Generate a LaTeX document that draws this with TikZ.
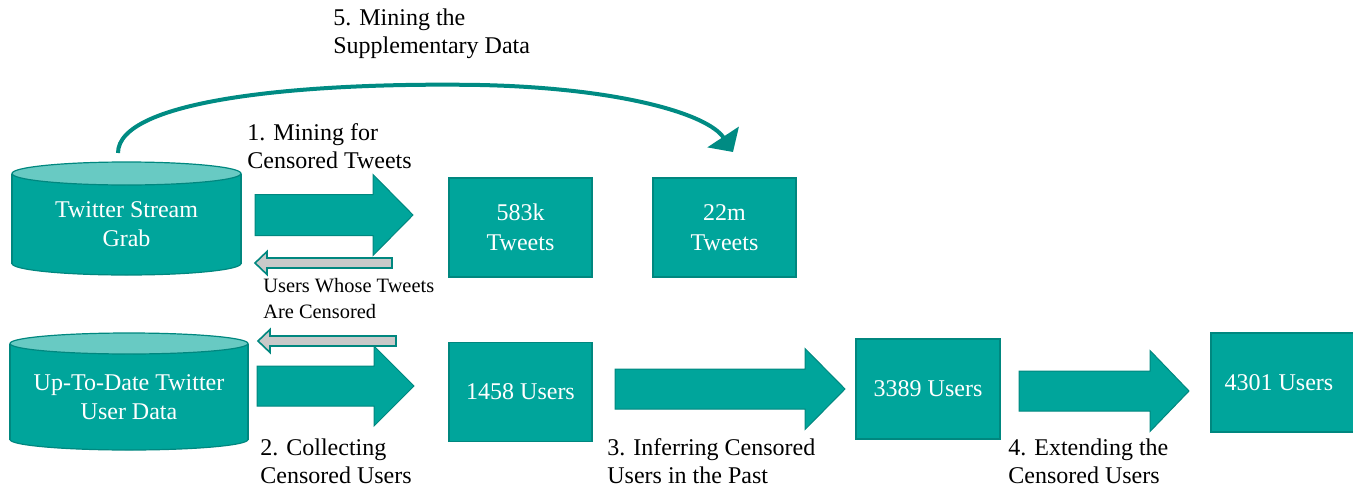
\documentclass[tikz,border=0pt]{standalone}
\usepackage{fontspec}
\setmainfont{Liberation Serif}
\usetikzlibrary{positioning,arrows.meta,calc}

\definecolor{tealmain}{HTML}{00A59B}
\definecolor{teallight}{HTML}{68CAC3}
\definecolor{tealdark}{HTML}{00877F}
\definecolor{grayfill}{HTML}{C9C9C9}

% block arrow: style, tail x, head base x, tip x, mid y, half shaft, half head
\newcommand{\blockarrow}[7]{%
  \draw[#1] (#2,#5-#6) -- (#3,#5-#6) -- (#3,#5-#7) -- (#4,#5)
    -- (#3,#5+#7) -- (#3,#5+#6) -- (#2,#5+#6) -- cycle;}

\begin{document}
\begin{tikzpicture}[x=0.5pt,y=-0.5pt,
  every node/.style={font=\fontsize{12}{14}\selectfont},
  Boxnode/.style={rectangle,fill=tealmain,draw=tealdark,line width=0.6pt,text=white,
    align=center,inner sep=0pt,minimum width=71.5pt,minimum height=49.5pt,
    font=\fontsize{12}{15}\selectfont},
  Cylnode/.style={text=white,align=center,inner sep=0pt,font=\fontsize{12}{14.5}\selectfont},
  Lblnode/.style={anchor=west,align=left,inner sep=0pt},
  Bigarrow/.style={fill=tealmain,draw=tealdark,line width=0.5pt},
  Grayarrow/.style={fill=grayfill,draw=tealdark,line width=0.8pt},
  Curvarrow/.style={draw=tealdark!85!tealmain,line width=2pt,
    -{Triangle[width=18.5pt,length=9pt]}}
]
\useasboundingbox (0,0) rectangle (1353,487);

% the first cylinder
\filldraw[fill=tealmain,draw=tealdark,line width=0.6pt] (126.5,263.5) ellipse [x radius=57.25pt, y radius=5.75pt];
\fill[tealmain] (12,173.5) rectangle (241,263.5);
\draw[tealdark,line width=0.6pt] (12,173.5) -- (12,263.5) (241,173.5) -- (241,263.5);
\filldraw[fill=teallight,draw=tealdark,line width=0.6pt] (126.5,173.5) ellipse [x radius=57.25pt, y radius=5.75pt];
\node[Cylnode] (grab) at (126.5,224) {Twitter Stream\\Grab};

% the second cylinder
\filldraw[fill=tealmain,draw=tealdark,line width=0.6pt] (129,439.5) ellipse [x radius=59.5pt, y radius=5.25pt];
\fill[tealmain] (10,343.5) rectangle (248,439.5);
\draw[tealdark,line width=0.6pt] (10,343.5) -- (10,439.5) (248,343.5) -- (248,439.5);
\filldraw[fill=teallight,draw=tealdark,line width=0.6pt] (129,343.5) ellipse [x radius=59.5pt, y radius=5.25pt];
\node[Cylnode] (userdata) at (129,397.5) {Up-To-Date Twitter\\User Data};

% the boxes
\node[Boxnode] (tw583) at (520.5,227.5) {583k\\Tweets};
\node[Boxnode] (tw22) at (724.5,227.5) {22m\\Tweets};
\node[Boxnode] (us1458) at (520.5,392) {1458 Users};
\node[Boxnode,minimum width=72pt,minimum height=50pt] (us3389) at (928,389) {3389 Users};
\node[Boxnode,minimum width=72pt] (us4301) at (1283,382.5) {\hspace*{-4pt}4301 Users};

% the block arrows
\blockarrow{Bigarrow}{255}{373}{413}{215}{20.5}{40.5}
\blockarrow{Bigarrow}{257}{374}{414}{386}{20}{40}
\blockarrow{Bigarrow}{615}{805}{845}{389}{20}{40.5}
\blockarrow{Bigarrow}{1019}{1150}{1189}{391}{20}{40.5}
\blockarrow{Grayarrow}{392}{267}{255}{263}{5}{11.5}
\blockarrow{Grayarrow}{396}{270}{258}{341}{5}{11.5}

% the supplementary arrow
\coordinate (grabtop) at (118,153);
\coordinate (supp) at (733,152);
\draw[Curvarrow] (grabtop) .. controls (118,100) and (300,82) .. (480,85)
  .. controls (620,88) and (708,114) .. (supp);

% the labels
\node[Lblnode] (step5) at (333,33.5) {5. Mining the\\Supplementary Data};
\node[Lblnode] (step1) at (247,146) {1. Mining for\\Censored Tweets};
\node[Lblnode,font=\fontsize{10.2}{13}\selectfont] (censored) at (263,299) {Users Whose Tweets\\Are Censored};
\node[Lblnode] (step2) at (260,461) {2. Collecting\\Censored Users};
\node[Lblnode] (step3) at (607,461) {3. Inferring Censored\\Users in the Past};
\node[Lblnode] (step4) at (1008,461) {4. Extending the\\Censored Users};

\end{tikzpicture}
\end{document}
